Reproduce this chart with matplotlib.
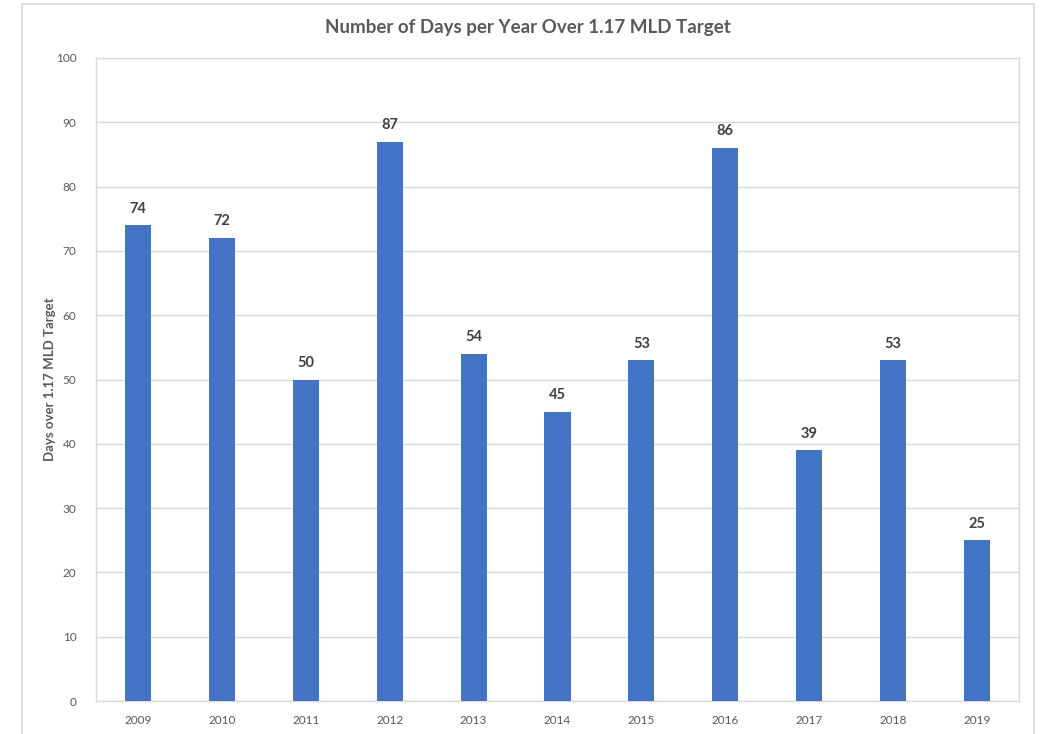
import matplotlib.pyplot as plt
from matplotlib.patches import Rectangle

years = ['2009', '2010', '2011', '2012', '2013', '2014', '2015', '2016', '2017', '2018', '2019']
days_over = [74, 72, 50, 87, 54, 45, 53, 86, 39, 53, 25]

plt.rcParams['font.family'] = ['Lato', 'DejaVu Sans']
text_color = '#595959'
grid_color = '#d9d9d9'

fig = plt.figure(figsize=(10.43, 7.34), dpi=100)
W, H = 1043, 734

# outer chart frame
fig.patches.append(Rectangle((22 / W, -0.05), (1034 - 22) / W, 1.05 - 3.5 / H,
                             transform=fig.transFigure, fill=False,
                             edgecolor=grid_color, linewidth=1.2))

ax = fig.add_axes([96 / W, 1 - 701 / H, (1019 - 96) / W, (701 - 58) / H])
ax.bar(range(len(years)), days_over, width=0.31, color='#4472C4', zorder=3)

for i, v in enumerate(days_over):
    ax.text(i, v + 1.5, str(v), ha='center', va='bottom', fontsize=10.5,
            fontweight='bold', color='#404040')

ax.set_xlim(-0.5, len(years) - 0.5)
ax.set_ylim(0, 100)
ax.set_yticks(range(0, 101, 10))
ax.set_xticks(range(len(years)))
ax.set_xticklabels(years)
ax.tick_params(length=0, labelsize=8.5, colors=text_color)
ax.tick_params(axis='x', pad=10)
ax.tick_params(axis='y', pad=14)
ax.grid(axis='y', color=grid_color, linewidth=1, zorder=0)
for s in ax.spines.values():
    s.set_color(grid_color)
    s.set_linewidth(1)

ax.set_ylabel('Days over 1.17 MLD Target', fontsize=9.5, fontweight='bold',
              color=text_color)
ax.yaxis.set_label_coords(-40 / (1019 - 96), 0.5)
fig.text(528 / W, 1 - 27 / H, 'Number of Days per Year Over 1.17 MLD Target',
         ha='center', va='center', fontsize=13.5, fontweight='bold', color=text_color)

fig.savefig('out.png', dpi=100)
